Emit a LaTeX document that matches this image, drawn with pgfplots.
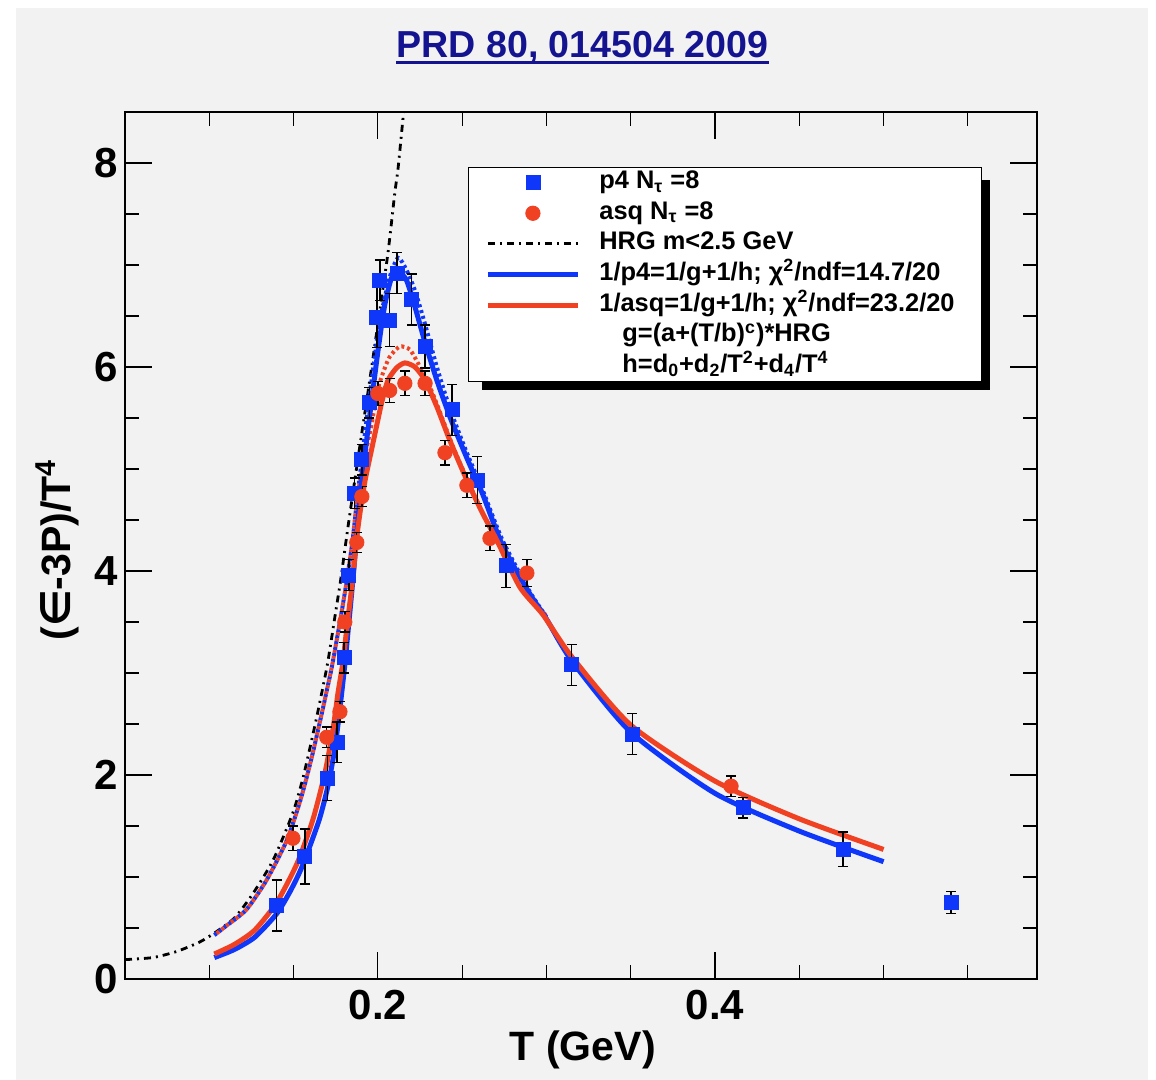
\documentclass[border=0pt]{standalone}
\usepackage{fontspec}
\setmainfont{Liberation Sans}
\newfontfamily\dejavu{DejaVu Sans}
\usepackage{pgfplots}
\usepackage{pgfplotstable}
\pgfplotsset{compat=1.18}
\definecolor{rootblue}{RGB}{15,55,250}
\definecolor{rootred}{RGB}{240,65,35}
\definecolor{bg}{RGB}{242,242,242}
\definecolor{navy}{RGB}{20,20,145}

\pgfplotstableread{
T v e
0.140 0.72 0.25
0.1567 1.20 0.27
0.170 1.97 0.22
0.1757 2.32 0.20
0.180 3.15 0.15
0.1828 3.96 0.15
0.1863 4.76 0.15
0.1905 5.09 0.15
0.195 5.65 0.15
0.1994 6.49 0.30
0.2012 6.85 0.20
0.207 6.46 0.26
0.2113 6.92 0.20
0.220 6.66 0.25
0.228 6.20 0.21
0.244 5.58 0.25
0.259 4.89 0.23
0.276 4.05 0.21
0.315 3.08 0.20
0.351 2.40 0.20
0.4166 1.68 0.10
0.476 1.27 0.17
0.540 0.75 0.11
}\ptfour

\pgfplotstableread{
T v e
0.1496 1.38 0.12
0.1697 2.37 0.10
0.1775 2.62 0.10
0.1804 3.50 0.10
0.1875 4.28 0.10
0.1905 4.73 0.10
0.200 5.74 0.12
0.207 5.77 0.12
0.216 5.84 0.12
0.228 5.84 0.12
0.2398 5.16 0.12
0.2528 4.84 0.12
0.2665 4.32 0.12
0.2884 3.98 0.13
0.4095 1.89 0.10
}\asq

\pgfplotstableread{
T v
0.05 0.19
0.0665 0.21
0.0807 0.27
0.094 0.36
0.103 0.45
0.115 0.60
0.126 0.84
0.138 1.17
0.1496 1.63
0.156 2.00
0.1635 2.55
0.170 3.08
0.1745 3.55
0.178 3.92
0.182 4.40
0.1864 4.90
0.190 5.30
0.195 5.85
0.200 6.42
0.206 7.12
0.210 7.70
0.212 7.95
0.2148 8.42
0.2155 8.55
}\hrg

\pgfplotstableread{
T v
0.103 0.21
0.115 0.29
0.127 0.41
0.140 0.64
0.148 0.86
0.155 1.10
0.165 1.55
0.1705 1.90
0.175 2.32
0.180 3.02
0.185 3.88
0.190 4.82
0.195 5.50
0.200 6.15
0.204 6.60
0.208 6.87
0.212 6.94
0.217 6.85
0.222 6.59
0.228 6.24
0.235 5.87
0.243 5.50
0.253 5.10
0.262 4.76
0.274 4.25
0.290 3.78
0.300 3.53
0.315 3.12
0.350 2.42
0.400 1.82
0.450 1.45
0.500 1.15
}\bluefit

\pgfplotstableread{
T v
0.103 0.245
0.115 0.34
0.127 0.48
0.140 0.75
0.152 1.13
0.1614 1.56
0.1686 2.02
0.1733 2.44
0.1763 2.80
0.1792 3.10
0.182 3.50
0.185 3.91
0.188 4.40
0.192 4.85
0.1964 5.20
0.200 5.48
0.2024 5.66
0.206 5.87
0.211 5.99
0.216 6.04
0.222 6.00
0.228 5.87
0.235 5.61
0.2427 5.28
0.2528 4.89
0.262 4.57
0.2706 4.30
0.2843 3.84
0.298 3.57
0.315 3.16
0.350 2.49
0.400 1.94
0.450 1.57
0.500 1.27
}\redfit

\pgfplotstableread{
T v
0.103 0.43
0.110 0.52
0.122 0.68
0.134 0.97
0.146 1.36
0.154 1.75
0.160 2.12
0.1656 2.52
0.170 2.85
0.1727 3.06
0.1775 3.50
0.1816 3.91
0.185 4.30
0.188 4.75
0.192 5.30
0.195 5.71
0.201 6.43
0.207 6.88
0.212 7.07
0.217 6.95
0.222 6.75
0.228 6.42
0.235 6.00
0.243 5.58
0.253 5.15
0.262 4.80
0.274 4.30
0.290 3.80
0.300 3.55
}\bluedot

\pgfplotstableread{
T v
0.103 0.43
0.110 0.52
0.122 0.68
0.134 0.97
0.146 1.36
0.154 1.75
0.160 2.12
0.1656 2.52
0.170 2.85
0.1727 3.06
0.1775 3.50
0.1816 3.91
0.185 4.30
0.188 4.75
0.192 5.10
0.1964 5.45
0.1994 5.75
0.203 5.94
0.207 6.10
0.213 6.20
0.219 6.17
0.225 6.00
0.231 5.80
0.237 5.55
0.245 5.20
0.253 4.90
0.262 4.57
0.270 4.33
0.285 3.85
0.300 3.56
}\reddot

\begin{document}
\begin{tikzpicture}
\useasboundingbox (0,0) rectangle (578pt,540pt);
\fill[white] (0,0) rectangle (578pt,540pt);
\fill[bg] (8pt,0) rectangle (574pt,536pt);
\node[anchor=base, inner sep=0pt, font=\bfseries\fontsize{18.8}{18.8}\selectfont, text=navy] (title) at (291.25pt,511pt) {PRD 80, 014504 2009};
\draw[navy, line width=1.5pt] ([yshift=-2.2pt]title.base west) -- ([yshift=-2.2pt]title.base east);

\begin{axis}[
  at={(62.5pt,50.5pt)}, anchor=south west,
  scale only axis, width=456pt, height=433.5pt,
  xmin=0.05, xmax=0.591, ymin=0, ymax=8.5,
  axis line style={black, line width=0.8pt},
  tick style={black, line width=0.6pt},
  tick align=inside,
  major tick length=13.5pt, minor tick length=7pt,
  xtick={0.2,0.4}, ytick={0,2,4,6,8},
  minor xtick={0.1,0.15,0.25,0.3,0.35,0.45,0.5,0.55},
  minor ytick={0.5,1,1.5,2.5,3,3.5,4.5,5,5.5,6.5,7,7.5},
  /pgf/number format/assume math mode=true,
  tick label style={font=\bfseries\fontsize{21}{21}\selectfont},
  yticklabel style={inner xsep=3.5pt},
  xticklabel style={inner ysep=5.5pt},
  xlabel={T (GeV)},
  ylabel={({\dejavu\bfseries ∈}-3P)/T\textsuperscript{4}},
  label style={font=\bfseries\fontsize{20.5}{20.5}\selectfont},
  xlabel style={at={(axis description cs:0.502,-0.082)}, anchor=center},
  ylabel style={at={(axis description cs:-0.0746,0.495)}, anchor=center},
  legend image code/.code={\draw[mark repeat=2,mark phase=2,#1] plot coordinates {(0pt,0pt)(22.5pt,0pt)(45pt,0pt)};},
  legend cell align=left,
  legend style={at={(0.3761,0.9366)}, anchor=north west, draw=black, fill=white,
    font=\bfseries\fontsize{12.7}{13}\selectfont, row sep=0pt, inner xsep=8.5pt, inner ysep=0pt,
    nodes={inner ysep=1.2pt, inner xsep=0pt, text height=9.5pt, text depth=3.4pt},
    /tikz/every odd column/.append style={column sep=9.5pt}},
]
\fill[black] (axis description cs:0.3914,0.6794) rectangle (axis description cs:0.9485,0.9216);
\addplot[black, line width=1.4pt, dash pattern=on 3.5pt off 2.5pt on 1pt off 2.5pt, smooth, tension=0.4, forget plot] table[x=T,y=v] {\hrg};
\addplot[rootblue, line width=2pt, dash pattern=on 1.5pt off 1.5pt, smooth, tension=0.4, forget plot] table[x=T,y=v] {\bluedot};
\addplot[rootred, line width=2pt, dash pattern=on 1.5pt off 1.5pt, dash phase=1.5pt, smooth, tension=0.4, forget plot] table[x=T,y=v] {\reddot};
\addplot[rootblue, line width=2.5pt, smooth, tension=0.4, forget plot] table[x=T,y=v] {\bluefit};
\addplot[rootred, line width=2.5pt, smooth, tension=0.4, forget plot] table[x=T,y=v] {\redfit};
\addplot[only marks, mark=square*, mark size=3.5pt, rootblue, forget plot,
  error bars/.cd, y dir=both, y explicit,
  error bar style={black, line width=0.7pt},
  error mark options={black, rotate=90, mark size=2.5pt, line width=0.7pt}]
  table[x=T, y=v, y error=e] {\ptfour};
\addplot[only marks, mark=*, mark size=3.6pt, rootred, forget plot,
  error bars/.cd, y dir=both, y explicit,
  error bar style={black, line width=0.7pt},
  error mark options={black, rotate=90, mark size=2.5pt, line width=0.7pt}]
  table[x=T, y=v, y error=e] {\asq};

\addlegendimage{only marks, mark=square*, mark size=3.5pt, rootblue}
\addlegendentry{p4 N\textsubscript{τ} =8}
\addlegendimage{only marks, mark=*, mark size=3.6pt, rootred}
\addlegendentry{asq N\textsubscript{τ} =8}
\addlegendimage{black, line width=1.4pt, dash pattern=on 3.5pt off 2.5pt on 1pt off 2.5pt}
\addlegendentry{HRG m<2.5 GeV}
\addlegendimage{rootblue, line width=2.5pt}
\addlegendentry{1/p4=1/g+1/h; χ\textsuperscript{2}/ndf=14.7/20}
\addlegendimage{rootred, line width=2.5pt}
\addlegendentry{1/asq=1/g+1/h; χ\textsuperscript{2}/ndf=23.2/20\hspace*{5pt}}
\addlegendimage{empty legend}
\addlegendentry{\hspace*{11.5pt}g=(a+(T/b)\textsuperscript{c})*HRG}
\addlegendimage{empty legend}
\addlegendentry{\hspace*{11.5pt}h=d\textsubscript{0}+d\textsubscript{2}/T\textsuperscript{2}+d\textsubscript{4}/T\textsuperscript{4}}
\end{axis}
\end{tikzpicture}
\end{document}
